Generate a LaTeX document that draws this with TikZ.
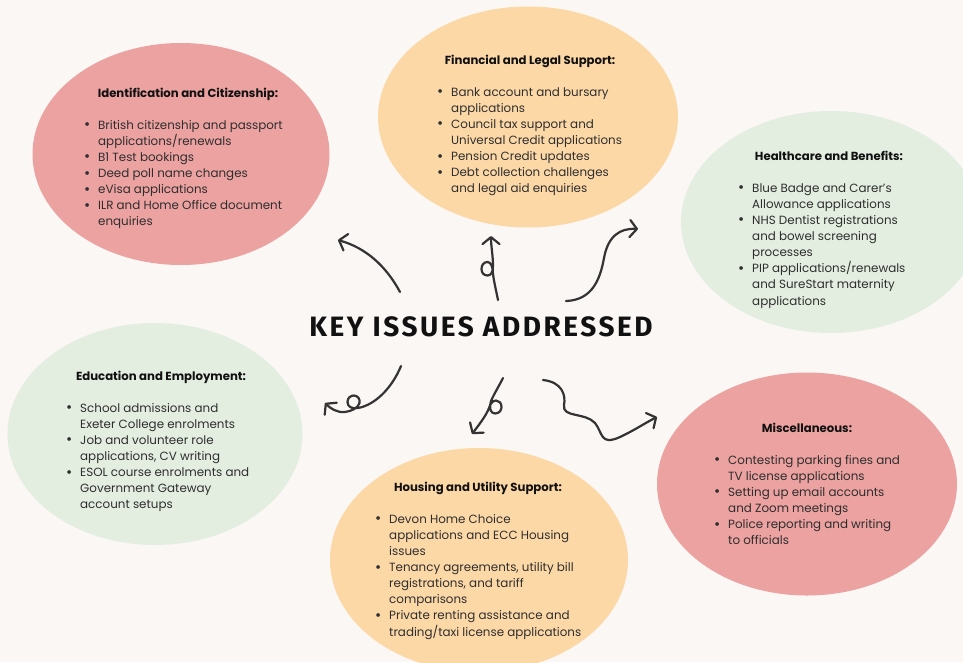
\documentclass[tikz,border=0pt]{standalone}
\usepackage{fontspec}
\setmainfont{Poppins}
\newfontfamily\titlefont[LetterSpace=9]{Fira Sans}
\usetikzlibrary{arrows.meta,shapes.geometric}

\definecolor{paper}{HTML}{FAF7F4}
\definecolor{rose}{HTML}{EBA2A0}
\definecolor{peach}{HTML}{FDD8A7}
\definecolor{sage}{HTML}{E3EEE0}
\definecolor{ink}{HTML}{111111}
\definecolor{body}{HTML}{2E2E2E}
\definecolor{pen}{HTML}{333333}

% one bullet entry and the indent of its continuation lines
\newcommand{\bul}{\makebox[14pt][l]{\raisebox{-0.6pt}{\fontsize{15}{15}\selectfont\textbullet}}}
\newcommand{\ind}{\hspace*{14pt}}
\newcommand{\itemlist}[1]{\parbox[t]{260pt}{\raggedright\fontsize{11.9}{16.15}\selectfont #1}}

\tikzset{
  blob/.style={ellipse, inner sep=0pt, draw=none},
  head/.style={font=\fontsize{11.7}{13}\selectfont\bfseries, text=ink, anchor=base, inner sep=0pt},
  items/.style={text=body, anchor=base west, inner sep=0pt},
  swirl/.style={draw=pen, line width=2.2pt, line cap=round, line join=round,
    -{Straight Barb[length=7pt,width=17pt,round]}},
}

\begin{document}
\begin{tikzpicture}[x=1pt,y=-1pt]
  \useasboundingbox (0,0) rectangle (963,662);
  \fill[paper] (0,0) rectangle (963,662);
  \clip (0,0) rectangle (963,662);

  % the six topic ellipses
  \node[blob, fill=rose,  minimum width=297pt, minimum height=222pt] (idE)   at (181,154) {};
  \node[blob, fill=peach, minimum width=300pt, minimum height=221pt] (finE)  at (528,117) {};
  \node[blob, fill=sage,  minimum width=300pt, minimum height=222pt] (hlthE) at (831,222) {};
  \node[blob, fill=sage,  minimum width=295pt, minimum height=222pt] (eduE)  at (155,434) {};
  \node[blob, fill=peach, minimum width=298pt, minimum height=224pt] (homeE) at (479,560) {};
  \node[blob, fill=rose,  minimum width=300pt, minimum height=223pt] (miscE) at (807,484) {};

  % Identification and Citizenship
  \node[head] (idH) at (188,97) {Identification and Citizenship:};
  \node[items] (idL) at (84,129) {\itemlist{%
    \bul British citizenship and passport\\ \ind applications/renewals\\
    \bul B1 Test bookings\\
    \bul Deed poll name changes\\
    \bul eVisa applications\\
    \bul ILR and Home Office document\\ \ind enquiries}};

  % Financial and Legal Support
  \node[head] (finH) at (530,64) {Financial and Legal Support:};
  \node[items] (finL) at (437,96) {\itemlist{%
    \bul Bank account and bursary\\ \ind applications\\
    \bul Council tax support and\\ \ind Universal Credit applications\\
    \bul Pension Credit updates\\
    \bul Debt collection challenges\\ \ind and legal aid enquiries}};

  % Healthcare and Benefits
  \node[head] (hlthH) at (829,160) {Healthcare and Benefits:};
  \node[items] (hlthL) at (738,192) {\itemlist{%
    \bul Blue Badge and Carer's\\ \ind Allowance applications\\
    \bul NHS Dentist registrations\\ \ind and bowel screening\\ \ind processes\\
    \bul PIP applications/renewals\\ \ind and SureStart maternity\\ \ind applications}};

  % Education and Employment
  \node[head] (eduH) at (161,380) {Education and Employment:};
  \node[items] (eduL) at (66,412) {\itemlist{%
    \bul School admissions and\\ \ind Exeter College enrolments\\
    \bul Job and volunteer role\\ \ind applications, CV writing\\
    \bul ESOL course enrolments and\\ \ind Government Gateway\\ \ind account setups}};

  % Housing and Utility Support
  \node[head] (homeH) at (478,491) {Housing and Utility Support:};
  \node[items] (homeL) at (375,523) {\itemlist{%
    \bul Devon Home Choice\\ \ind applications and ECC Housing\\ \ind issues\\
    \bul Tenancy agreements, utility bill\\ \ind registrations, and tariff\\ \ind comparisons\\
    \bul Private renting assistance and\\ \ind trading/taxi license applications}};

  % Miscellaneous
  \node[head] (miscH) at (807,432) {Miscellaneous:};
  \node[items] (miscL) at (714,464) {\itemlist{%
    \bul Contesting parking fines and\\ \ind TV license applications\\
    \bul Setting up email accounts\\ \ind and Zoom meetings\\
    \bul Police reporting and writing\\ \ind to officials}};

  % central title
  \node[inner sep=0pt, text=ink] (title) at (481,327)
    {\titlefont\fontsize{28}{30}\selectfont\bfseries KEY ISSUES ADDRESSED};

  % hand-drawn arrows radiating from the title
  \coordinate (a1s) at (400,292); \coordinate (a1e) at (338,240);
  \coordinate (a2s) at (498,300); \coordinate (a2e) at (491,236);
  \coordinate (a3s) at (566,301); \coordinate (a3e) at (638,229);
  \coordinate (a4s) at (401,366); \coordinate (a4e) at (325,403);
  \coordinate (a5s) at (503,378); \coordinate (a5e) at (472,434);
  \coordinate (a6s) at (543,380); \coordinate (a6e) at (657,417);

  \draw[swirl] (a1s) .. controls (386,266) and (366,248) .. (a1e);
  \draw[swirl] (a2s) .. controls (496,290) and (494,282) .. (493,274)
                     .. controls (493,267) and (491,262) .. (487.5,262)
                     .. controls (483.5,262) and (481.5,265.5) .. (481.5,269)
                     .. controls (481.5,273) and (484,275.5) .. (487.5,275.5)
                     .. controls (491,275.5) and (493,272) .. (493,266)
                     .. controls (493,256) and (491,246) .. (a2e);
  \draw[swirl] (a3s) .. controls (592,300) and (600,280) .. (604,258)
                     .. controls (608,236) and (620,228) .. (a3e);
  \draw[swirl] (a4s) .. controls (392,388) and (375,405) .. (358,408)
                     .. controls (352,409) and (347.5,407) .. (347.5,402)
                     .. controls (347.5,397.5) and (351,395.5) .. (354,395.5)
                     .. controls (358,395.5) and (360.5,400) .. (359.5,403)
                     .. controls (358,408) and (352,411) .. (345,412)
                     .. controls (337,413) and (330,408) .. (a4e);
  \draw[swirl] (a5s) .. controls (499,386) and (494,394) .. (491,401)
                     .. controls (489,407) and (490,413.5) .. (495,413.5)
                     .. controls (499.5,413.5) and (501.5,410) .. (501.5,407)
                     .. controls (501.5,403) and (499,400.5) .. (496,400.5)
                     .. controls (492,400.5) and (490,405) .. (489,408)
                     .. controls (486,416) and (478,426) .. (a5e);
  \draw[swirl] (a6s) .. controls (562,382) and (566,395) .. (564,405)
                     .. controls (562,418) and (585,412) .. (595,423)
                     .. controls (603,433) and (600,446) .. (620,437)
                     .. controls (635,430) and (645,423) .. (a6e);
\end{tikzpicture}
\end{document}
